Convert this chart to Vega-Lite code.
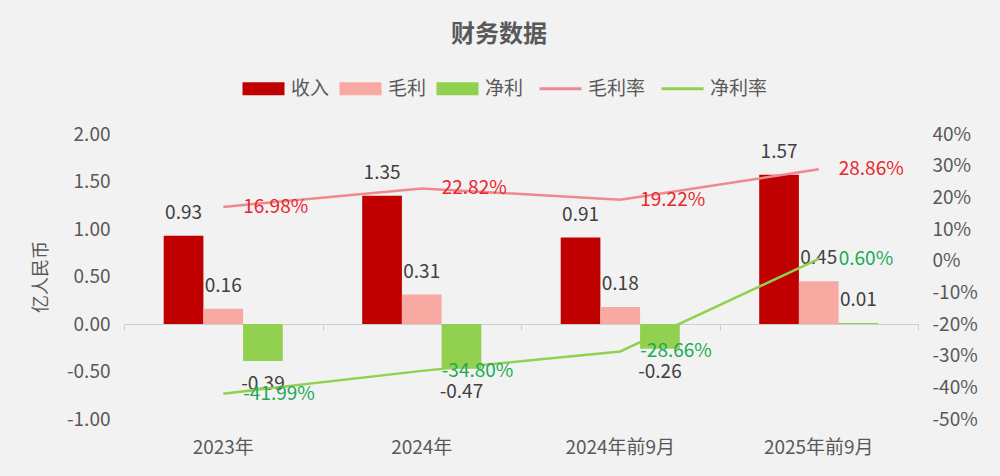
{
  "$schema": "https://vega.github.io/schema/vega-lite/v6.json",
  "width": 794,
  "height": 285,
  "autosize": "none",
  "padding": {"left": 124, "top": 134, "right": 82, "bottom": 57},
  "background": "#f2f2f2",
  "title": {
    "text": "财务数据",
    "fontSize": 24,
    "fontWeight": "bold",
    "color": "#595959",
    "anchor": "middle",
    "frame": "group",
    "dx": -22,
    "offset": 32
  },
  "datasets": {
    "bars": [
      {"period": "2023年", "series": "收入", "value": 0.93},
      {"period": "2023年", "series": "毛利", "value": 0.16},
      {"period": "2023年", "series": "净利", "value": -0.39},
      {"period": "2024年", "series": "收入", "value": 1.35},
      {"period": "2024年", "series": "毛利", "value": 0.31},
      {"period": "2024年", "series": "净利", "value": -0.47},
      {"period": "2024年前9月", "series": "收入", "value": 0.91},
      {"period": "2024年前9月", "series": "毛利", "value": 0.18},
      {"period": "2024年前9月", "series": "净利", "value": -0.26},
      {"period": "2025年前9月", "series": "收入", "value": 1.57},
      {"period": "2025年前9月", "series": "毛利", "value": 0.45},
      {"period": "2025年前9月", "series": "净利", "value": 0.01}
    ],
    "rates": [
      {"period": "2023年", "series": "毛利率", "rate": 0.1698},
      {"period": "2024年", "series": "毛利率", "rate": 0.2282},
      {"period": "2024年前9月", "series": "毛利率", "rate": 0.1922},
      {"period": "2025年前9月", "series": "毛利率", "rate": 0.2886},
      {"period": "2023年", "series": "净利率", "rate": -0.4199},
      {"period": "2024年", "series": "净利率", "rate": -0.348},
      {"period": "2024年前9月", "series": "净利率", "rate": -0.2866},
      {"period": "2025年前9月", "series": "净利率", "rate": 0.006}
    ]
  },
  "layer": [
    {
      "data": {"name": "bars"},
      "encoding": {
        "x": {
          "field": "period",
          "type": "nominal",
          "sort": null,
          "scale": {"paddingInner": 0, "paddingOuter": 0},
          "axis": {
            "orient": "bottom",
            "title": null,
            "domain": false,
            "ticks": false,
            "labelAngle": 0,
            "labelFontSize": 19,
            "labelColor": "#595959",
            "labelPadding": 19
          }
        },
        "xOffset": {
          "field": "series",
          "sort": ["收入", "毛利", "净利"],
          "scale": {"paddingInner": 0, "paddingOuter": 1.08}
        },
        "y": {
          "field": "value",
          "type": "quantitative",
          "scale": {"domain": [-1, 2], "nice": false, "zero": false},
          "axis": {
            "title": "亿人民币",
            "titleFontSize": 18,
            "titleFontWeight": "normal",
            "titleColor": "#595959",
            "titlePadding": 16,
            "values": [-1, -0.5, 0, 0.5, 1, 1.5, 2],
            "format": ".2f",
            "grid": false,
            "domain": false,
            "ticks": false,
            "labelFontSize": 19,
            "labelColor": "#595959",
            "labelPadding": 14
          }
        }
      },
      "layer": [
        {
          "mark": {"type": "bar"},
          "encoding": {
            "color": {
              "field": "series",
              "type": "nominal",
              "scale": {
                "domain": ["收入", "毛利", "净利", "毛利率", "净利率"],
                "range": ["#c00000", "#f8aaa2", "#92d050", "#ee8a8e", "#92d050"]
              },
              "legend": {
                "title": null,
                "orient": "none",
                "direction": "horizontal",
                "legendX": 130,
                "legendY": -55,
                "symbolSize": 1764,
                "labelFontSize": 19,
                "labelColor": "#595959",
                "labelOffset": 18,
                "columnPadding": 9,
                "symbolOpacity": 1,
                "encode": {
                  "symbols": {
                    "update": {
                      "shape": {"signal": "indexof(['毛利率','净利率'], datum.value) >= 0 ? 'M-1,0H1' : 'M-1,-0.31H1V0.31H-1Z'"},
                      "fill": {"scale": "color", "field": "value"},
                      "stroke": {"scale": "color", "field": "value"},
                      "strokeWidth": {"signal": "indexof(['毛利率','净利率'], datum.value) >= 0 ? 3 : 0"},
                      "opacity": {"value": 1}
                    }
                  }
                }
              }
            }
          }
        },
        {
          "transform": [{"filter": "datum.value >= 0"}],
          "mark": {"type": "text", "baseline": "alphabetic", "dy": -17, "fontSize": 19, "color": "#404040"},
          "encoding": {"text": {"field": "value", "type": "quantitative", "format": ".2f"}}
        },
        {
          "transform": [{"filter": "datum.value < 0"}],
          "mark": {"type": "text", "baseline": "top", "dy": 14, "fontSize": 19, "color": "#404040"},
          "encoding": {"text": {"field": "value", "type": "quantitative", "format": ".2f"}}
        }
      ]
    },
    {
      "data": {"name": "rates"},
      "encoding": {
        "x": {
          "field": "period",
          "type": "nominal",
          "sort": null,
          "axis": {
            "orient": "bottom",
            "title": null,
            "labels": false,
            "domain": true,
            "domainColor": "#cfcfcf",
            "ticks": true,
            "tickColor": "#cfcfcf",
            "tickSize": 6,
            "tickBand": "extent",
            "offset": -95
          }
        },
        "y": {
          "field": "rate",
          "type": "quantitative",
          "scale": {"domain": [-0.5, 0.4], "nice": false, "zero": false},
          "axis": {
            "orient": "right",
            "title": null,
            "values": [-0.5, -0.4, -0.3, -0.2, -0.1, 0, 0.1, 0.2, 0.3, 0.4],
            "format": ".0%",
            "grid": false,
            "domain": false,
            "ticks": false,
            "labelFontSize": 19,
            "labelColor": "#595959",
            "labelPadding": 14
          }
        }
      },
      "layer": [
        {
          "mark": {"type": "line", "strokeWidth": 2.5},
          "encoding": {
            "color": {"field": "series", "type": "nominal"}
          }
        },
        {
          "mark": {"type": "text", "align": "left", "baseline": "middle", "dx": 20, "fontSize": 19},
          "encoding": {
            "text": {"field": "rate", "type": "quantitative", "format": ".2%"},
            "color": {
              "condition": {"test": "datum.series == '毛利率'", "value": "#e8262d"},
              "value": "#1aaa55"
            }
          }
        }
      ]
    }
  ],
  "resolve": {"scale": {"y": "independent"}, "axis": {"x": "independent"}},
  "config": {
    "font": "Noto Sans CJK SC",
    "view": {"stroke": null},
    "locale": {
      "number": {"decimal": ".", "thousands": ",", "grouping": [3], "currency": ["$", ""], "minus": "-"}
    }
  }
}
